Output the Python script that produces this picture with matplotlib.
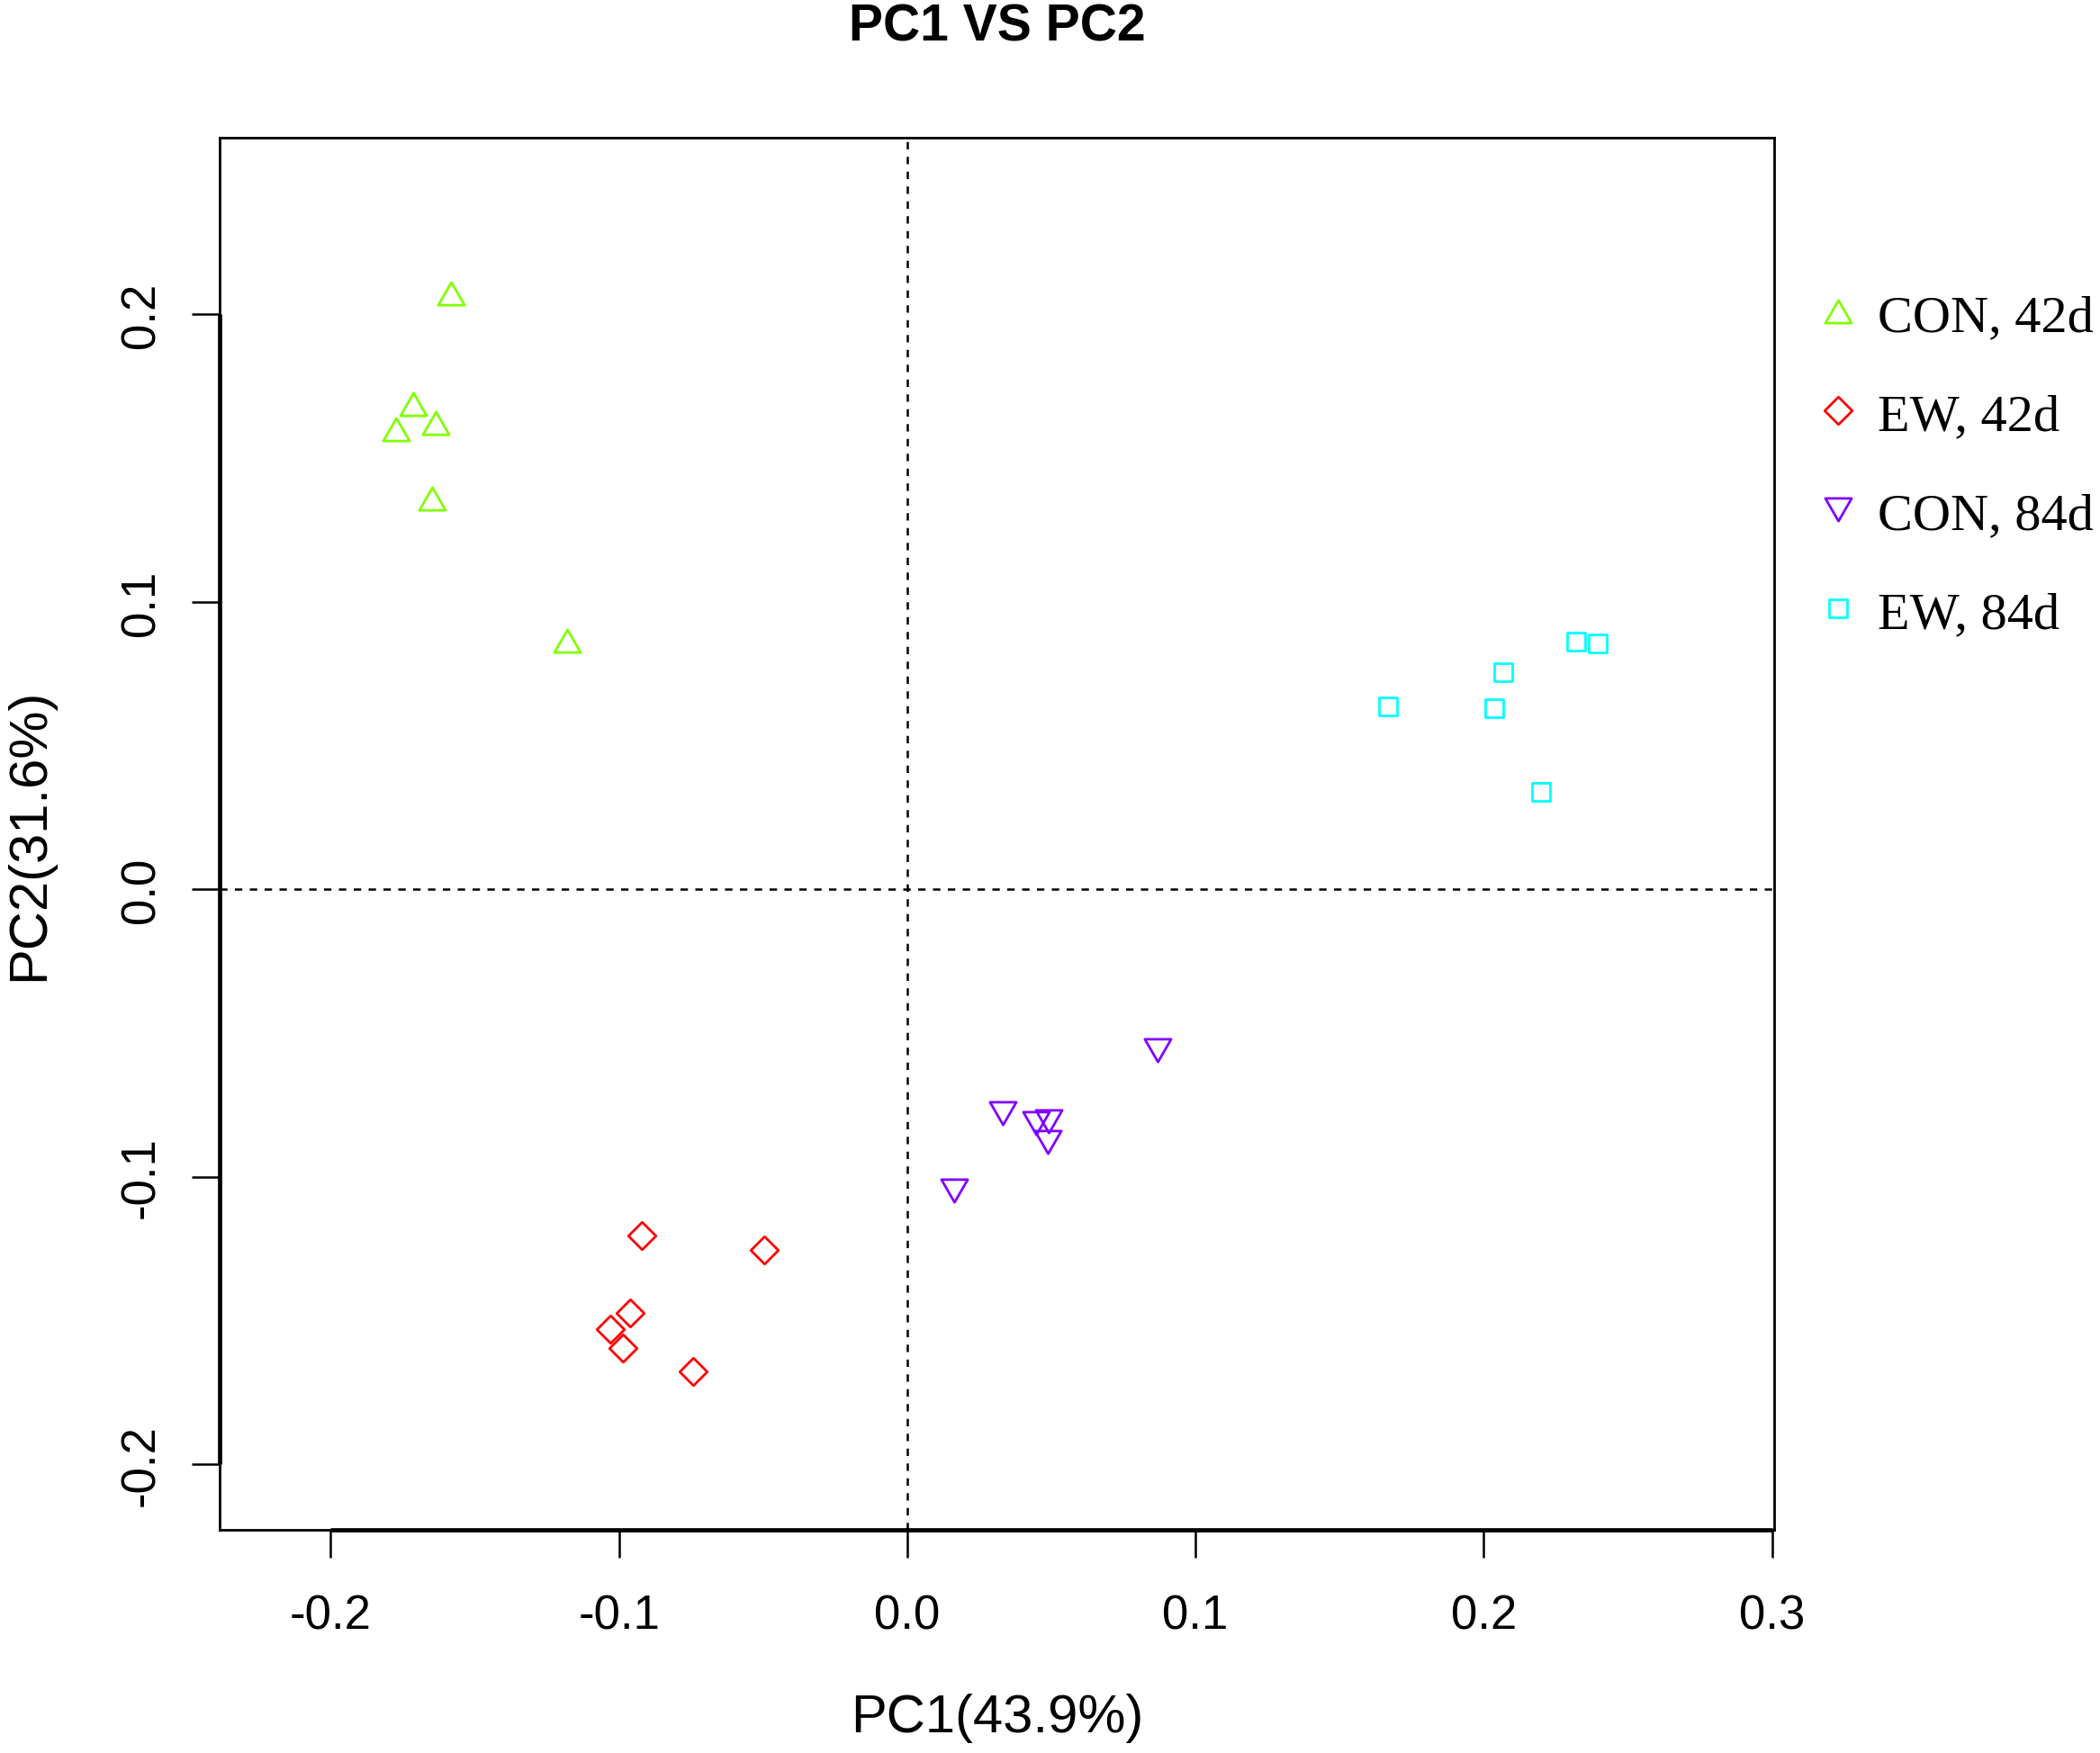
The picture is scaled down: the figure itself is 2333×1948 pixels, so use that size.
import matplotlib
matplotlib.use("Agg")
import matplotlib.pyplot as plt
from matplotlib.path import Path
from matplotlib import font_manager

# PCA scores
con42_x = [-0.1583, -0.1713, -0.1773, -0.1635, -0.1648, -0.1180]
con42_y = [0.2074, 0.1687, 0.1602, 0.1624, 0.1360, 0.0866]
ew42_x = [-0.0922, -0.0497, -0.0960, -0.1029, -0.0987, -0.0744]
ew42_y = [-0.1204, -0.1254, -0.1473, -0.1529, -0.1596, -0.1676]
con84_x = [0.0870, 0.0330, 0.0448, 0.0490, 0.0486, 0.0162]
con84_y = [-0.0560, -0.0777, -0.0812, -0.0807, -0.0879, -0.1047]
ew84_x = [0.2321, 0.2396, 0.2067, 0.1669, 0.2036, 0.2199]
ew84_y = [0.0861, 0.0857, 0.0755, 0.0638, 0.0632, 0.0340]

groups = ["CON, 42d", "EW, 42d", "CON, 84d", "EW, 84d"]
colors = ["#80FF00", "#FF0000", "#8000FF", "#00FFFF"]
xticks = [-0.2, -0.1, 0.0, 0.1, 0.2, 0.3]
yticks = [-0.2, -0.1, 0.0, 0.1, 0.2]

# R-like open symbols
tri_up = Path([(0, 0.5), (0.577, -0.5), (-0.577, -0.5), (0, 0.5)], closed=True)
tri_dn = Path([(0, -0.5), (0.577, 0.5), (-0.577, 0.5), (0, -0.5)], closed=True)
diamond = Path([(0, 1), (1, 0), (0, -1), (-1, 0), (0, 1)], closed=True)
square = Path([(-1, -1), (1, -1), (1, 1), (-1, 1), (-1, -1)], closed=True)
markers = [tri_up, diamond, tri_dn, square]
sizes = [21, 22, 21, 15]

names = {f.name for f in font_manager.fontManager.ttflist}
if "Liberation Sans Narrow" in names:
    sans = "Liberation Sans Narrow"
    tick_fs, lab_fs = 42, 48
else:
    sans = "Liberation Sans"
    tick_fs, lab_fs = 38, 43

plt.rcParams["axes.unicode_minus"] = False

fig = plt.figure(figsize=(23.33, 19.49), dpi=100)
ax = fig.add_axes([0.1044, 0.1274, 0.8450 - 0.1044, 0.9210 - 0.1274])

data = [(con42_x, con42_y), (ew42_x, ew42_y), (con84_x, con84_y), (ew84_x, ew84_y)]
for (xs, ys), g, c, m, s in zip(data, groups, colors, markers, sizes):
    ax.plot(xs, ys, ls="none", marker=m, ms=s, mfc="none", mec=c, mew=2.0, label=g)

ax.axhline(0, color="black", lw=1.8, ls=(0, (3.3, 3.3)), zorder=0)
ax.axvline(0, color="black", lw=1.8, ls=(0, (3.3, 3.3)), zorder=0)

ax.set_xlim(-0.2387, 0.3009)
ax.set_ylim(-0.2226, 0.2615)
ax.set_xticks(xticks)
ax.set_yticks(yticks)
ax.set_xticklabels(["%.1f" % v for v in xticks], fontsize=tick_fs, family=sans)
ax.set_yticklabels(["%.1f" % v for v in yticks], fontsize=tick_fs, family=sans,
                   rotation=90, va="center")
ax.tick_params(length=22, width=1.8, direction="out")
ax.tick_params(axis="x", pad=29)
ax.tick_params(axis="y", pad=22)
for sp in ax.spines.values():
    sp.set_linewidth(2.0)

# axis lines (R draws them over the box between first and last tick)
ax.plot([-0.2, 0.3], [0, 0], color="black", lw=3.4, transform=ax.get_xaxis_transform(),
        clip_on=False, solid_capstyle="butt")
ax.plot([0, 0], [-0.2, 0.2], color="black", lw=3.4, transform=ax.get_yaxis_transform(),
        clip_on=False, solid_capstyle="butt")

ax.set_xlabel("PC1(43.9%)", fontsize=lab_fs, family=sans)
ax.set_ylabel("PC2(31.6%)", fontsize=lab_fs, family=sans)
ax.xaxis.set_label_coords(0.5, -0.1347)
ax.yaxis.set_label_coords(-0.1219, 0.5)
ax.xaxis.label.set_va("center")
ax.yaxis.label.set_va("center")

ax.set_title("PC1 VS PC2", fontsize=41, fontweight="bold", family="Liberation Sans",
             y=1.0, pad=0)
ax.title.set_position((0.5, 1 + (154 - 31) / 1546.7))
ax.title.set_va("center")

ax.legend(loc="upper left", bbox_to_anchor=(2013 / 2333, 1 - 327 / 1949),
          bbox_transform=fig.transFigure, frameon=False, numpoints=1,
          prop={"family": "Liberation Serif", "size": 42},
          handlelength=1.0, handletextpad=0.26, labelspacing=0.98, borderpad=0,
          borderaxespad=0)

fig.savefig("out.png", dpi=100)
